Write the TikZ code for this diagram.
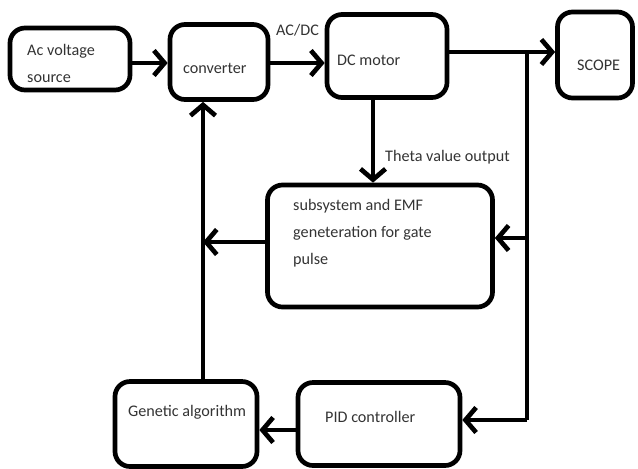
\documentclass[tikz,border=0pt]{standalone}
\usepackage{fontspec}
\setmainfont{Carlito}
\usetikzlibrary{arrows.meta}

\tikzset{
  block/.style={draw, line width=4pt, rounded corners=0.45cm, inner sep=0pt},
  flow/.style={line width=4pt, -{Straight Barb[length=3.2mm,width=7.5mm]}},
  wire/.style={line width=4pt},
  txt/.style={anchor=west, align=left, inner sep=0pt, font=\fontsize{13.8}{23}\selectfont, text=black!80}
}

\begin{document}
\begin{tikzpicture}[x=0.03cm, y=-0.03cm]
        \useasboundingbox (0,0) rectangle (638,468);

        % Blocks of the forward path
        \node[block, minimum width=3.6cm, minimum height=1.86cm] (source) at (70,59) {};
        \node[block, minimum width=2.94cm, minimum height=2.25cm] (conv) at (219,62) {};
        \node[block, minimum width=3.6cm, minimum height=2.49cm] (motor) at (387,56) {};
        \node[block, minimum width=2.25cm, minimum height=2.58cm] (scope) at (595,55) {};

        % Blocks of the feedback path
        \node[block, minimum width=6.75cm, minimum height=3.66cm] (gate) at (380,246) {};
        \node[block, minimum width=4.26cm, minimum height=2.55cm] (ga) at (186,424) {};
        \node[block, minimum width=4.86cm, minimum height=2.49cm] (pid) at (379,424) {};

        % Texts of the blocks
        \node[txt] (sourcetext) at (27,63) {Ac voltage\\source};
        \node[txt] (convtext) at (183,68) {converter};
        \node[txt] (motortext) at (337,60) {DC motor};
        \node[txt] (scopetext) at (577,65) {SCOPE};
        \node[txt] (gatetext) at (293,233) {subsystem and EMF\\geneteration for gate\\pulse};
        \node[txt] (gatext) at (128,412) {Genetic algorithm};
        \node[txt] (pidtext) at (325,417) {PID controller};

        % Labels on the connectors
        \node[txt] (acdc) at (276,30) {AC/DC};
        \node[txt] (theta) at (385,157) {Theta value output};

        % Branch points
        \coordinate (tap) at (527,52);
        \coordinate (tapmid) at (527,238);
        \coordinate (tapbot) at (527,420);
        \coordinate (drop) at (373,0);
        \coordinate (back) at (203,0);

        % Forward path
        \draw[flow] (source.east |- 0,63) -- (conv.west |- 0,63);
        \draw[flow] (conv.east |- 0,63) -- (motor.west |- 0,63);
        \draw[flow] (motor.east |- tap) -- (scope.west |- tap);

        % Theta output down to the subsystem
        \draw[flow] (motor.south -| drop) -- (gate.north -| drop);

        % Measured output back to subsystem and PID
        \draw[wire] (tap) -- (tapbot);
        \draw[flow] (tapmid) -- (gate.east |- tapmid);
        \draw[flow] (tapbot) -- (pid.east |- tapbot);
        \draw[flow] (pid.west |- 0,430) -- (ga.east |- 0,430);

        % Gate pulse and GA output back to the converter
        \draw[flow] (ga.north -| back) -- (conv.south -| back);
        \draw[flow] (gate.west |- 0,242) -- (back |- 0,242);

\end{tikzpicture}
\end{document}
